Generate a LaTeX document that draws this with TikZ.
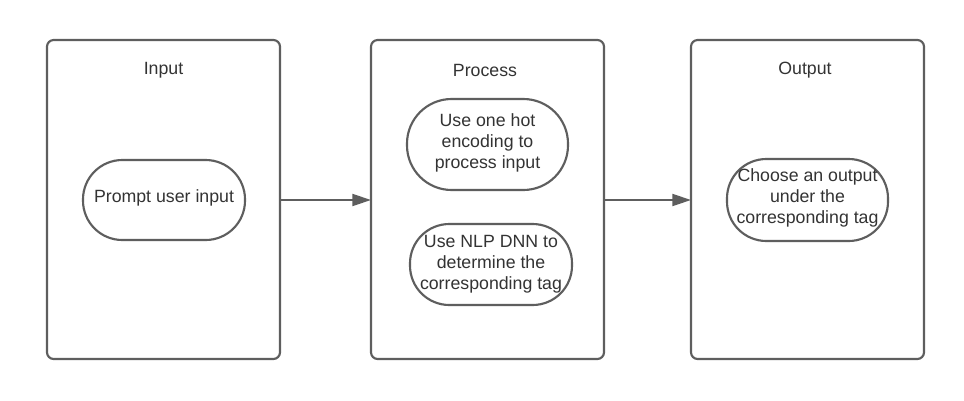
\documentclass[tikz,border=0pt]{standalone}
\usepackage{fontspec}
\setmainfont{Liberation Sans}
\usetikzlibrary{arrows.meta}
\definecolor{edge}{HTML}{5E5E5E}
\definecolor{txt}{HTML}{333333}
\begin{document}
\begin{tikzpicture}[x=0.75pt,y=-0.75pt,
  panel/.style={draw=edge,line width=1.6pt,rounded corners=5pt,fill=white},
  title/.style={text=txt,font=\fontsize{13.3}{15.75}\selectfont,anchor=center},
  pill/.style={draw=edge,line width=1.6pt},
  lbl/.style={text=txt,align=center,font=\fontsize{13.3}{15.75}\selectfont,inner sep=0pt},
  flow/.style={draw=edge,line width=1.5pt,-{Triangle[length=14pt,width=9pt]}}]
\useasboundingbox (0,0) rectangle (964,400);
% panels
\draw[panel] (47,40) rectangle (280,359);
\draw[panel] (371,40) rectangle (604,359);
\draw[panel] (691,40) rectangle (924,359);
\coordinate (inR) at (280,200);
\coordinate (prL) at (371,200);
\coordinate (prR) at (604,200);
\coordinate (ouL) at (691,200);
% titles
\node[title] (tin) at (163.5,70) {Input};
\node[title] (tpr) at (485,70) {Process};
\node[title] (tou) at (805,70) {Output};
% pills
\draw[pill,rounded corners=29.5pt] (83,160) rectangle (245,240);
\node[lbl] (p1) at (164,198) {Prompt user input};
\draw[pill,rounded corners=33.5pt] (407,99) rectangle (568,190);
\node[lbl] (p2) at (487.5,143) {Use one hot\\encoding to\\process input};
\draw[pill,rounded corners=29.5pt] (410,224) rectangle (572,305);
\node[lbl] (p3) at (491,264) {Use NLP DNN to\\determine the\\corresponding tag};
\draw[pill,rounded corners=29.5pt] (727,159) rectangle (888,241);
\node[lbl] (p4) at (807.5,198) {Choose an output\\under the\\corresponding tag};
% arrows
\draw[flow] (inR) -- (prL);
\draw[flow] (prR) -- (ouL);
\end{tikzpicture}
\end{document}
